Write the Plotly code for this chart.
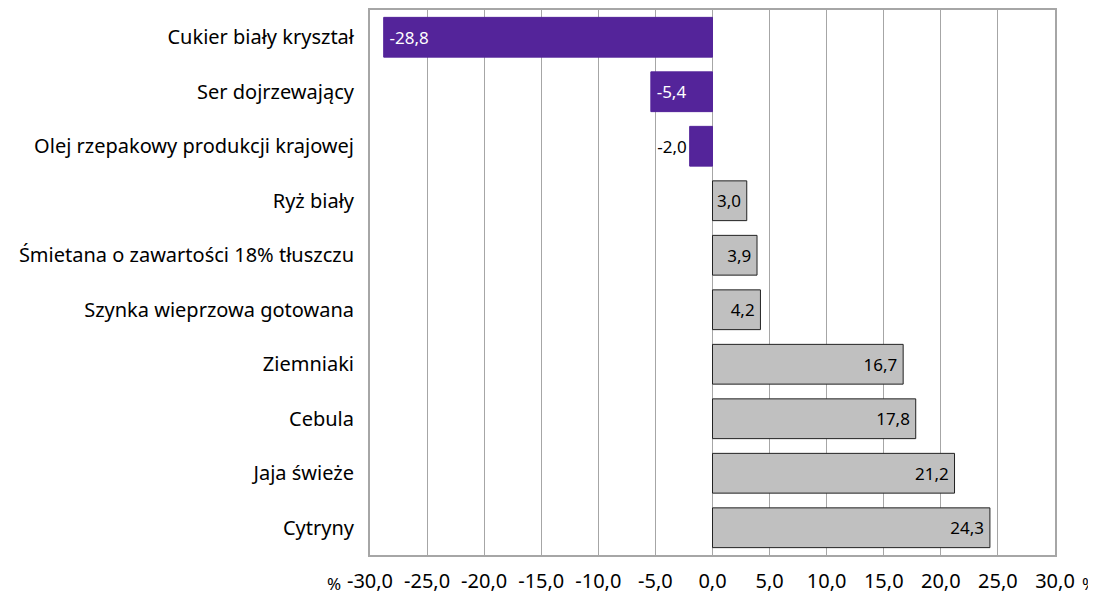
import plotly.graph_objects as go

# product names, top to bottom
products = [
    "Cukier biały kryształ",
    "Ser dojrzewający",
    "Olej rzepakowy produkcji krajowej",
    "Ryż biały",
    "Śmietana o zawartości 18% tłuszczu",
    "Szynka wieprzowa gotowana",
    "Ziemniaki",
    "Cebula",
    "Jaja świeże",
    "Cytryny",
]
# change in %
changes = [-28.8, -5.4, -2.0, 3.0, 3.9, 4.2, 16.7, 17.8, 21.2, 24.3]

tick_vals = [-30, -25, -20, -15, -10, -5, 0, 5, 10, 15, 20, 25, 30]
tick_text = ["-30,0", "-25,0", "-20,0", "-15,0", "-10,0", "-5,0", "0,0",
             "5,0", "10,0", "15,0", "20,0", "25,0", "30,0"]

PURPLE = "#54249a"
GREY = "#c0c0c0"
FONT = "Noto Sans"
PAD = "\u2009"  # thin space, keeps labels off the bar end

labels = []
for v in changes:
    s = f"{v:.1f}".replace(".", ",")
    if v >= 0:
        s = s + PAD
    elif v < -3:
        s = PAD + s
    labels.append(s)
bar_colors = [PURPLE if v < 0 else GREY for v in changes]
line_colors = [PURPLE if v < 0 else "#222222" for v in changes]
text_colors = ["white" if v < -3 else "black" for v in changes]
# small negative bar gets its label outside
text_pos = ["outside" if -3 < v < 0 else "inside" for v in changes]

fig = go.Figure()
fig.add_trace(go.Bar(
    y=products,
    x=changes,
    orientation="h",
    marker=dict(color=bar_colors, line=dict(color=line_colors, width=1)),
    text=labels,
    textposition=text_pos,
    insidetextanchor="end",
    textangle=0,
    constraintext="none",
    cliponaxis=False,
    textfont=dict(family=FONT, size=17, color=text_colors),
    hoverinfo="skip",
))

# page body adds 8px around the figure, so size is reduced to match
fig.update_layout(
    width=1088,
    height=586,
    margin=dict(l=362, r=41, t=2, b=39),
    paper_bgcolor="white",
    plot_bgcolor="white",
    bargap=0.27,
    showlegend=False,
    font=dict(family=FONT, size=18, color="black"),
)

fig.update_xaxes(
    range=[-30, 30],
    tickvals=tick_vals,
    ticktext=tick_text,
    showgrid=True,
    gridcolor="#a6a6a6",
    gridwidth=1,
    zeroline=False,
    showline=True,
    linecolor="#a6a6a6",
    linewidth=2,
    mirror=True,
    ticks="",
    ticklabelstandoff=7,
    automargin=False,
    tickfont=dict(family=FONT, size=20),
)
fig.update_yaxes(
    autorange="reversed",
    showline=True,
    linecolor="#a6a6a6",
    linewidth=2,
    mirror=True,
    showgrid=False,
    ticks="",
    ticklabelstandoff=10,
    automargin=False,
    tickfont=dict(family=FONT, size=20),
)

# percent signs at both ends of the value axis
for xp, anchor in [(-30, "right"), (30, "left")]:
    fig.add_annotation(
        x=xp, y=0, xref="x", yref="paper",
        yshift=-28, xshift=-27 if anchor == "right" else 25,
        text="%", showarrow=False,
        xanchor=anchor, yanchor="middle",
        font=dict(family=FONT, size=17, color="black"),
    )

fig.write_html("out.html")
